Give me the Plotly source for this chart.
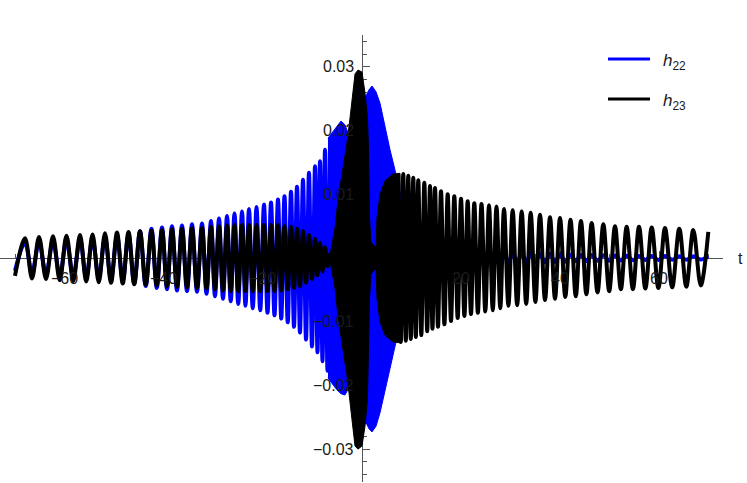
import plotly.graph_objects as go

# ---------------- data ----------------
# extremum times on the left (shared by both modes), t
left_t = [-70.10, -68.08, -66.67, -65.25, -63.84, -62.42, -61.06, -59.70, -58.33, -56.97,
          -55.71, -54.44, -53.18, -51.92, -50.71, -49.49, -48.33, -47.17, -46.01, -44.85,
          -43.69, -42.53, -41.46, -40.40, -39.39, -38.38, -37.37, -36.36, -35.35, -34.34,
          -33.33, -32.32, -31.41, -30.51, -29.70, -28.89, -28.08, -27.27, -26.52, -25.76,
          -25.00, -24.24, -23.54, -22.83, -22.07, -21.31, -20.56, -19.80, -19.09, -18.38,
          -17.68, -16.97, -16.31, -15.66, -15.00, -14.34, -13.74, -13.13, -12.53, -11.92,
          -11.31, -10.71, -10.10, -9.49, -8.99, -8.48, -7.98, -7.47, -6.97, -6.46]
# |h23| at those extrema (sign alternates, first one negative)
h23_left_amp = [0.0028, 0.0031, 0.0032, 0.0033, 0.0033, 0.0034, 0.0035, 0.0035, 0.0036, 0.0036,
                0.0037, 0.0037, 0.0038, 0.0039, 0.0039, 0.0040, 0.0040, 0.0041, 0.0041, 0.0042,
                0.0042, 0.0043, 0.0043, 0.0044, 0.0044, 0.0045, 0.0045, 0.0046, 0.0046, 0.0047,
                0.0047, 0.0047, 0.0048, 0.0049, 0.0049, 0.0050, 0.0051, 0.0051, 0.0052, 0.0052,
                0.0052, 0.0052, 0.0052, 0.0052, 0.0052, 0.0052, 0.0052, 0.0052, 0.0052, 0.0052,
                0.0052, 0.0052, 0.0051, 0.0050, 0.0049, 0.0049, 0.0047, 0.0046, 0.0044, 0.0042,
                0.0039, 0.0036, 0.0033, 0.0030, 0.0027, 0.0024, 0.0021, 0.0017, 0.0013, 0.0008]
# |h22| at those extrema
h22_left_amp = [0.0020, 0.0024, 0.0024, 0.0025, 0.0025, 0.0026, 0.0027, 0.0027, 0.0028, 0.0029,
                0.0030, 0.0030, 0.0031, 0.0032, 0.0033, 0.0035, 0.0036, 0.0038, 0.0040, 0.0042,
                0.0044, 0.0046, 0.0047, 0.0048, 0.0049, 0.0050, 0.0051, 0.0051, 0.0052, 0.0053,
                0.0053, 0.0054, 0.0056, 0.0058, 0.0060, 0.0062, 0.0064, 0.0066, 0.0068, 0.0070,
                0.0072, 0.0073, 0.0075, 0.0077, 0.0079, 0.0080, 0.0082, 0.0084, 0.0086, 0.0087,
                0.0090, 0.0092, 0.0095, 0.0097, 0.0101, 0.0104, 0.0108, 0.0112, 0.0117, 0.0123,
                0.0128, 0.0134, 0.0139, 0.0144, 0.0148, 0.0152, 0.0162, 0.0170, 0.0177, 0.0185]

# extremum times on the right, t (first one a crest)
right_t = [7.33, 7.84, 8.34, 8.85, 9.35, 9.86, 10.36, 10.87, 11.37, 11.98,
           12.59, 13.17, 13.74, 14.24, 14.75, 15.35, 15.96, 16.65, 17.31, 17.98,
           18.65, 19.33, 20.00, 20.69, 21.35, 22.02, 22.69, 23.41, 24.14, 24.91,
           25.66, 26.42, 27.17, 27.94, 28.69, 29.58, 30.44, 31.35, 32.26, 33.17,
           34.08, 35.03, 35.96, 36.97, 37.98, 38.99, 40.00, 41.07, 42.12, 43.19,
           44.24, 45.33, 46.40, 47.58, 48.75, 49.94, 51.11, 52.30, 53.47, 54.73,
           55.96, 57.25, 58.53, 59.88, 61.21, 62.67, 64.10, 65.52, 66.93, 68.44, 69.96]
h23_right_amp = [0.0130, 0.0132, 0.0132, 0.0130, 0.0129, 0.0127, 0.0126, 0.0124, 0.0122, 0.0121,
                 0.0118, 0.0115, 0.0113, 0.0111, 0.0110, 0.0108, 0.0105, 0.0104, 0.0100, 0.0099,
                 0.0097, 0.0094, 0.0093, 0.0091, 0.0089, 0.0088, 0.0086, 0.0086, 0.0085, 0.0084,
                 0.0083, 0.0082, 0.0081, 0.0079, 0.0077, 0.0075, 0.0075, 0.0074, 0.0073, 0.0072,
                 0.0071, 0.0069, 0.0068, 0.0066, 0.0064, 0.0064, 0.0063, 0.0061, 0.0060, 0.0060,
                 0.0058, 0.0057, 0.0055, 0.0054, 0.0053, 0.0052, 0.0050, 0.0049, 0.0049, 0.0049,
                 0.0049, 0.0048, 0.0048, 0.0047, 0.0047, 0.0046, 0.0046, 0.0045, 0.0044, 0.0043, 0.0041]
h22_right_amp = [0.0118, 0.0107, 0.0094, 0.0082, 0.0071, 0.0061, 0.0053, 0.0047, 0.0041, 0.0036,
                 0.0031, 0.0028, 0.0026, 0.0024, 0.0023, 0.0022, 0.0021, 0.0020, 0.0020, 0.0019,
                 0.0018, 0.0018, 0.0017, 0.0017, 0.0016, 0.0016, 0.0015, 0.0015, 0.0014, 0.0014,
                 0.0013, 0.0013, 0.0012, 0.0011, 0.0011, 0.0010, 0.0010, 0.0009, 0.0009, 0.0008,
                 0.0008, 0.00075, 0.00072, 0.00069, 0.00066, 0.00063, 0.0006, 0.00057, 0.00053, 0.0005,
                 0.00049, 0.00047, 0.00046, 0.00044, 0.00042, 0.00041, 0.00039, 0.00038, 0.00036, 0.00035,
                 0.00033, 0.00031, 0.00031, 0.0003, 0.0003, 0.00028, 0.00028, 0.00027, 0.00027, 0.00025, 0.00025]

# merger region: envelope of the (unresolved) fast oscillation
h22_core_t = [-6.87, -5.86, -5.05, -4.24, -3.43, -2.42, -1.41, -0.40, 0.61, 1.41,
              2.02, 2.83, 3.64, 4.65, 5.66, 6.67, 7.27, 7.88]
h22_core_up = [0.0188, 0.0199, 0.0207, 0.0215, 0.0209, 0.0188, 0.0196, 0.0228, 0.0251, 0.0264,
               0.0270, 0.0261, 0.0243, 0.0206, 0.0170, 0.0138, 0.0118, 0.0097]
h22_core_lo = [-0.0188, -0.0199, -0.0207, -0.0213, -0.0215, -0.0200, -0.0200, -0.0230, -0.0255, -0.0268,
               -0.0273, -0.0264, -0.0243, -0.0206, -0.0170, -0.0138, -0.0118, -0.0097]

h23_core_t = [-6.46, -5.45, -4.85, -3.84, -3.03, -2.42, -2.02, -1.41, -0.81, 0.00,
              0.61, 1.11, 1.31, 1.52, 1.82, 2.42, 2.83, 3.03, 3.64, 4.65, 6.26, 7.68]
h23_core_up = [0.0005, 0.0047, 0.0091, 0.0141, 0.0181, 0.0220, 0.0251, 0.0289, 0.0295, 0.0292,
               0.0259, 0.0220, 0.0173, 0.0063, 0.0025, 0.0020, 0.0016, 0.0063, 0.0100, 0.0121, 0.0132, 0.0133]
h23_core_lo = [-0.0005, -0.0047, -0.0091, -0.0144, -0.0184, -0.0223, -0.0254, -0.0295, -0.0300, -0.0295,
               -0.0264, -0.0220, -0.0173, -0.0063, -0.0025, -0.0020, -0.0016, -0.0063, -0.0100, -0.0121, -0.0132, -0.0133]

x_tick_vals = [-60, -40, -20, 20, 40, 60]
y_tick_vals = [-0.03, -0.02, -0.01, 0.01, 0.02, 0.03]
y_tick_text = ["\u22120.03", "\u22120.02", "\u22120.01", "0.01", "0.02", "0.03"]
x_tick_text = ["\u221260", "\u221240", "\u221220", "20", "40", "60"]

BLUE = "#0000ff"
BLACK = "#000000"


def alternate(amps, first_sign):
    out = []
    s = first_sign
    for a in amps:
        out.append(s * a)
        s = -s
    return out


def polygon(t, up, lo):
    return t + t[::-1], up + lo[::-1]


fig = go.Figure()

# h22 (blue)
px, py = polygon(h22_core_t, h22_core_up, h22_core_lo)
fig.add_trace(go.Scatter(x=px, y=py, mode="lines", fill="toself", fillcolor=BLUE,
                         line=dict(color=BLUE, width=1), hoverinfo="skip", showlegend=False))
fig.add_trace(go.Scatter(x=left_t, y=alternate(h22_left_amp, -1), mode="lines",
                         line=dict(color=BLUE, width=4, shape="spline"), showlegend=False))
fig.add_trace(go.Scatter(x=right_t, y=alternate(h22_right_amp, 1), mode="lines",
                         line=dict(color=BLUE, width=4, shape="spline"), showlegend=False))

# h23 (black)
px, py = polygon(h23_core_t, h23_core_up, h23_core_lo)
fig.add_trace(go.Scatter(x=px, y=py, mode="lines", fill="toself", fillcolor=BLACK,
                         line=dict(color=BLACK, width=1), hoverinfo="skip", showlegend=False))
fig.add_trace(go.Scatter(x=left_t, y=alternate(h23_left_amp, -1), mode="lines",
                         line=dict(color=BLACK, width=4, shape="spline"), showlegend=False))
fig.add_trace(go.Scatter(x=right_t, y=alternate(h23_right_amp, 1), mode="lines",
                         line=dict(color=BLACK, width=4, shape="spline"), showlegend=False))

W, H = 747, 483
AX = "#555555"
FONT = dict(family="Liberation Sans, Arial, sans-serif", size=16, color="#1a1a1a")

fig.update_layout(
    width=W, height=H,
    margin=dict(l=0, r=0, t=0, b=0),
    paper_bgcolor="white", plot_bgcolor="white",
    font=FONT,
    # axis lines and ticks under the curves
    xaxis=dict(domain=[0, 723 / W], range=[-73.13, 72.93], anchor="free", position=(H - 258) / H,
               showgrid=False, zeroline=False, showline=True, linecolor=AX, linewidth=1,
               ticks="inside", ticklen=7, tickwidth=1, tickcolor=AX,
               tickvals=x_tick_vals, showticklabels=False,
               minor=dict(ticks="inside", ticklen=4, tickwidth=1, tickcolor=AX, dtick=5, tick0=0),
               layer="below traces"),
    yaxis=dict(domain=[1 / H, (H - 35) / H], range=[-0.03516, 0.03501], anchor="free", position=362 / W,
               showgrid=False, zeroline=False, showline=True, linecolor=AX, linewidth=1,
               ticks="inside", ticklen=7, tickwidth=1, tickcolor=AX,
               tickvals=y_tick_vals, showticklabels=False,
               minor=dict(ticks="inside", ticklen=4, tickwidth=1, tickcolor=AX, dtick=0.002, tick0=0),
               layer="below traces"),
)

# tick labels drawn over the curves (placed through the axis scales)
for v, txt in zip(x_tick_vals, x_tick_text):
    fig.add_annotation(x=v, y=0, xref="x", yref="y", text=txt, showarrow=False,
                       xanchor="center", yanchor="top", yshift=-10, font=FONT)
for v, txt in zip(y_tick_vals, y_tick_text):
    fig.add_annotation(x=0, y=v, xref="x", yref="y", text=txt, showarrow=False,
                       xanchor="right", yanchor="middle", xshift=-6, font=FONT)

# axis label
fig.add_annotation(x=740 / W, y=(H - 258) / H, xref="paper", yref="paper", text="t",
                   showarrow=False, font=FONT, xanchor="center", yanchor="middle")

# legend
for yy, col, lab in [(59, BLUE, "<i>h</i><sub>22</sub>"), (99, BLACK, "<i>h</i><sub>23</sub>")]:
    fig.add_shape(type="line", xref="paper", yref="paper",
                  x0=608 / W, x1=650 / W, y0=(H - yy) / H, y1=(H - yy) / H,
                  line=dict(color=col, width=3))
    fig.add_annotation(x=661 / W, y=(H - yy - 3) / H, xref="paper", yref="paper", text=lab,
                       showarrow=False, xanchor="left", yanchor="middle",
                       font=dict(family="Liberation Sans, Arial, sans-serif", size=17, color="#1a1a1a"))

fig.write_html("out.html", config={"displayModeBar": False},
               post_script="document.body.style.margin='0';document.body.style.overflow='hidden';")
